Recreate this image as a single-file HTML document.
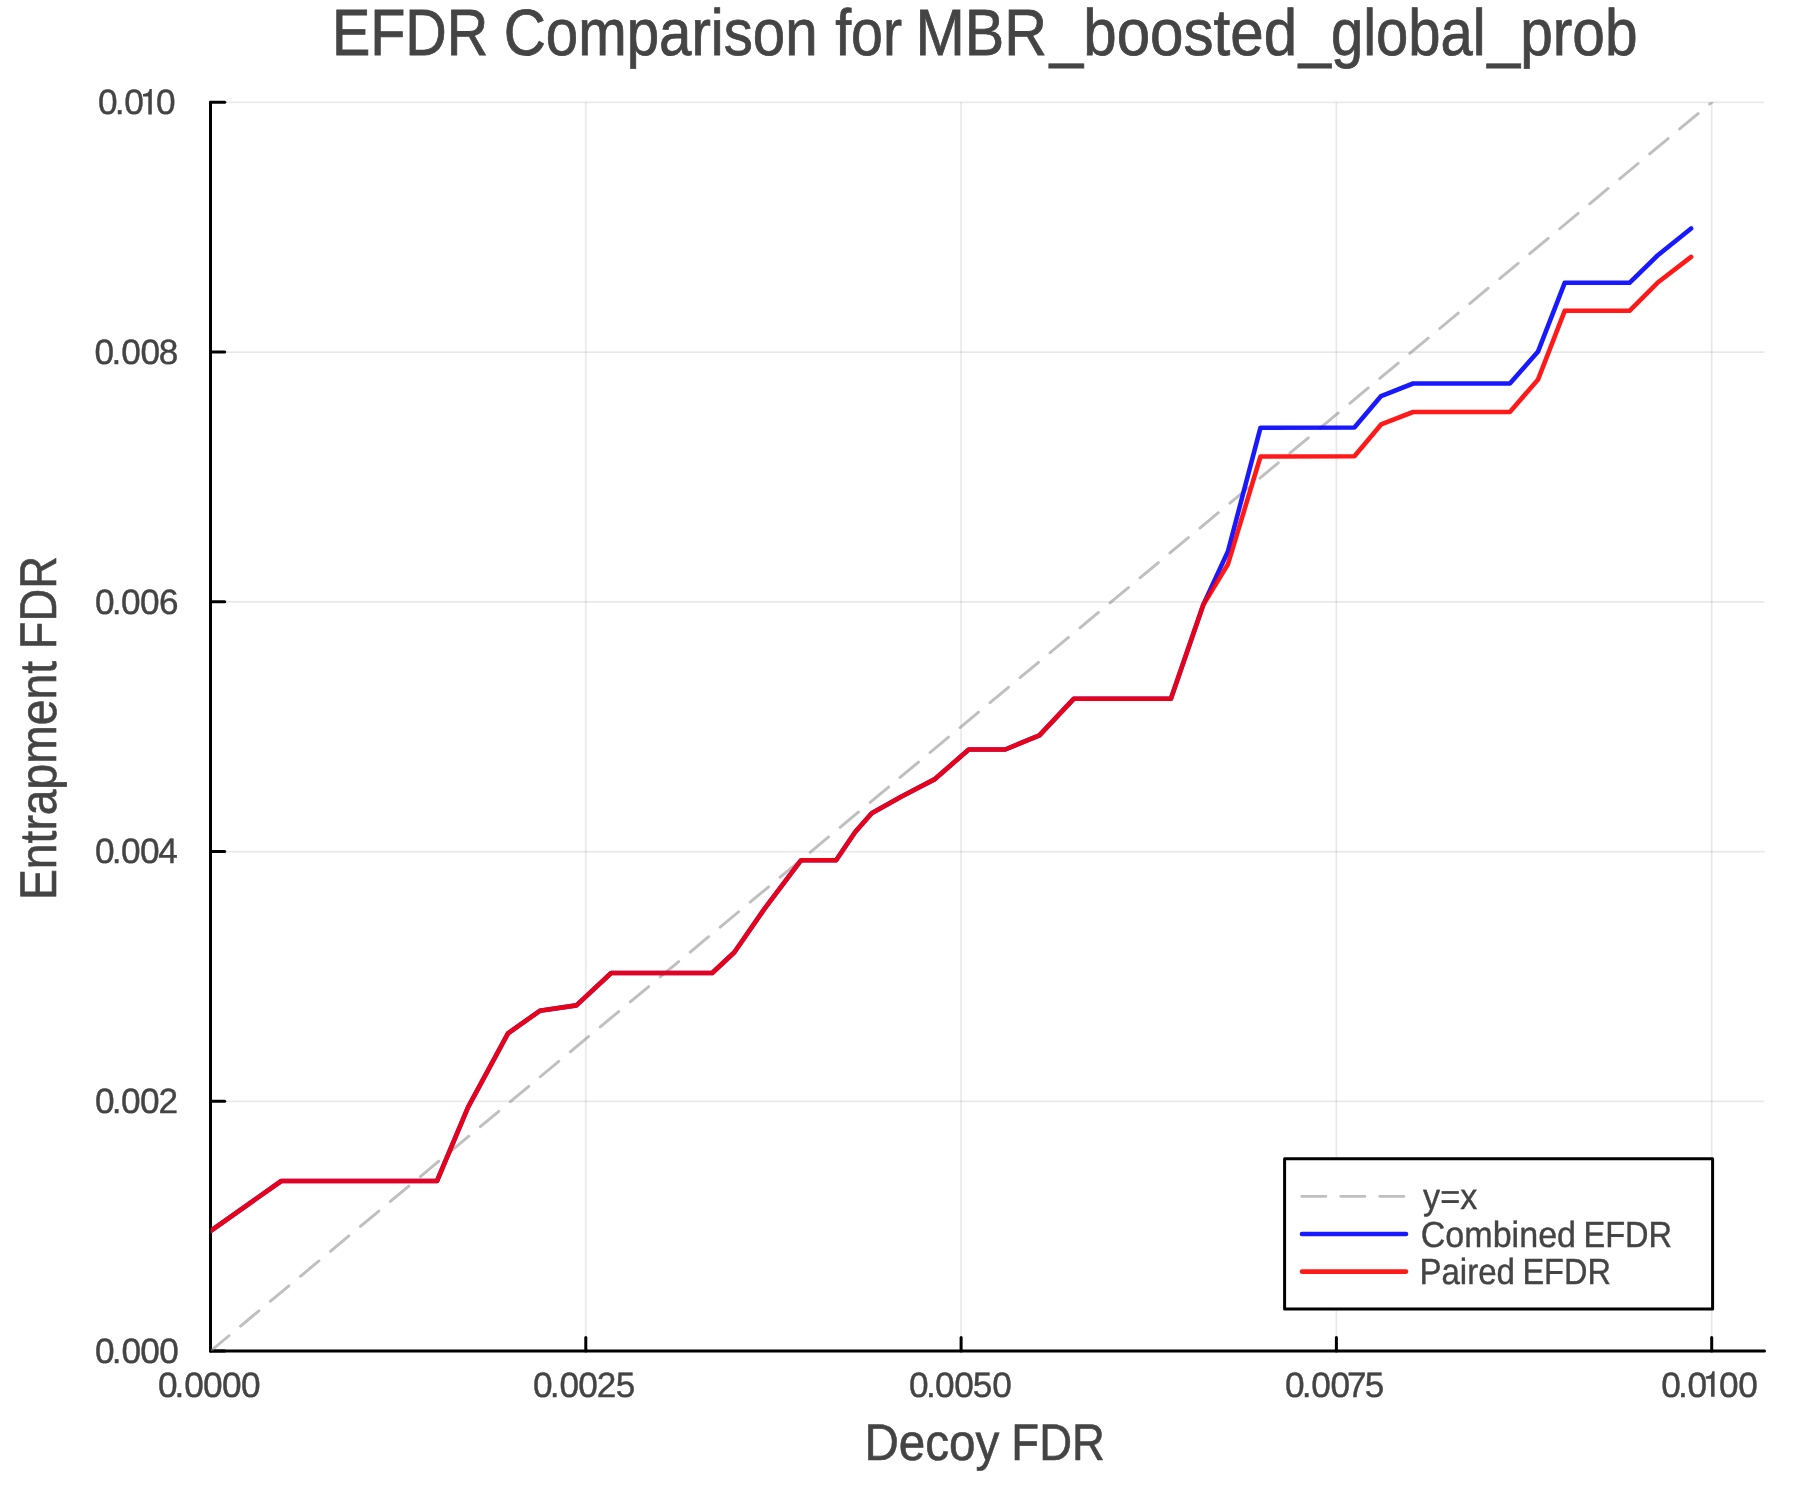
<!DOCTYPE html>
<html><head><meta charset="utf-8"><style>html,body{margin:0;padding:0;background:#fff;width:1800px;height:1500px;overflow:hidden}svg{display:block;will-change:transform;text-rendering:geometricPrecision}</style></head>
<body><svg width="1800" height="1500" viewBox="0 0 1800 1500">
<rect width="1800" height="1500" fill="#fff"/>
<line x1="585.80" y1="102.3" x2="585.80" y2="1351.1" stroke="#000" stroke-opacity="0.085" stroke-width="1.7"/>
<line x1="961.10" y1="102.3" x2="961.10" y2="1351.1" stroke="#000" stroke-opacity="0.085" stroke-width="1.7"/>
<line x1="1336.40" y1="102.3" x2="1336.40" y2="1351.1" stroke="#000" stroke-opacity="0.085" stroke-width="1.7"/>
<line x1="1711.70" y1="102.3" x2="1711.70" y2="1351.1" stroke="#000" stroke-opacity="0.085" stroke-width="1.7"/>
<line x1="210.5" y1="1101.34" x2="1764.5" y2="1101.34" stroke="#000" stroke-opacity="0.085" stroke-width="1.7"/>
<line x1="210.5" y1="851.58" x2="1764.5" y2="851.58" stroke="#000" stroke-opacity="0.085" stroke-width="1.7"/>
<line x1="210.5" y1="601.82" x2="1764.5" y2="601.82" stroke="#000" stroke-opacity="0.085" stroke-width="1.7"/>
<line x1="210.5" y1="352.06" x2="1764.5" y2="352.06" stroke="#000" stroke-opacity="0.085" stroke-width="1.7"/>
<line x1="210.5" y1="102.30" x2="1764.5" y2="102.30" stroke="#000" stroke-opacity="0.085" stroke-width="1.7"/>
<path d="M210.5 102.3 V1351.1 H1764.5" fill="none" stroke="#000" stroke-width="3" stroke-linecap="round" stroke-linejoin="round"/>
<line x1="210.5" y1="1351.1" x2="224.7" y2="1351.1" stroke="#000" stroke-width="3" stroke-linecap="round"/>
<line x1="210.5" y1="1101.3" x2="224.7" y2="1101.3" stroke="#000" stroke-width="3" stroke-linecap="round"/>
<line x1="210.5" y1="851.6" x2="224.7" y2="851.6" stroke="#000" stroke-width="3" stroke-linecap="round"/>
<line x1="210.5" y1="601.8" x2="224.7" y2="601.8" stroke="#000" stroke-width="3" stroke-linecap="round"/>
<line x1="210.5" y1="352.1" x2="224.7" y2="352.1" stroke="#000" stroke-width="3" stroke-linecap="round"/>
<line x1="210.5" y1="102.3" x2="224.7" y2="102.3" stroke="#000" stroke-width="3" stroke-linecap="round"/>
<line x1="210.5" y1="1351.1" x2="210.5" y2="1337.6" stroke="#000" stroke-width="3" stroke-linecap="round"/>
<line x1="585.8" y1="1351.1" x2="585.8" y2="1337.6" stroke="#000" stroke-width="3" stroke-linecap="round"/>
<line x1="961.1" y1="1351.1" x2="961.1" y2="1337.6" stroke="#000" stroke-width="3" stroke-linecap="round"/>
<line x1="1336.4" y1="1351.1" x2="1336.4" y2="1337.6" stroke="#000" stroke-width="3" stroke-linecap="round"/>
<line x1="1711.7" y1="1351.1" x2="1711.7" y2="1337.6" stroke="#000" stroke-width="3" stroke-linecap="round"/>
<defs><clipPath id="pa"><rect x="210.8" y="102.3" width="1553.7" height="1248.8"/></clipPath></defs><g clip-path="url(#pa)">
<line x1="210.5" y1="1351.1" x2="1734.75" y2="83.12" stroke="#808080" stroke-opacity="0.5" stroke-width="2.9" stroke-dasharray="24 15" stroke-linecap="round"/>
<polyline points="210.5,1231.0 281.3,1181.0 437.0,1181.0 468.0,1107.4 508.0,1033.4 539.8,1010.8 576.4,1005.4 611.2,973.0 712.2,973.0 734.4,952.2 764.4,908.9 801.1,860.2 836.1,860.2 855.0,832.2 871.7,813.3 901.1,796.7 934.4,779.4 968.8,749.5 1005.2,749.5 1039.4,735.3 1073.7,698.8 1170.9,698.8 1203.3,604.8 1227.9,551.5 1260.5,427.7 1354.4,427.5 1381.1,396.1 1413.1,383.5 1509.9,383.5 1538.1,351.4 1564.7,282.8 1629.5,282.8 1657.5,255.5 1691.1,228.5" fill="none" stroke="#0000ff" stroke-opacity="0.9" stroke-width="4.6" stroke-linejoin="round" stroke-linecap="round"/>
<polyline points="210.5,1231.0 281.3,1181.0 437.0,1181.0 468.0,1107.4 508.0,1033.4 539.8,1010.8 576.4,1005.4 611.2,973.0 712.2,973.0 734.4,952.2 764.4,908.9 801.1,860.2 836.1,860.2 855.0,832.2 871.7,813.3 901.1,796.7 934.4,779.4 968.8,749.5 1005.2,749.5 1039.4,735.3 1073.7,698.8 1170.9,698.8 1203.3,604.8 1227.9,564.3 1260.5,456.5 1354.4,456.3 1381.1,424.4 1413.1,412.0 1509.9,412.0 1538.1,379.4 1564.7,310.8 1629.5,310.8 1657.5,282.8 1691.1,256.9" fill="none" stroke="#ff0000" stroke-opacity="0.9" stroke-width="4.6" stroke-linejoin="round" stroke-linecap="round"/>
</g>
<text x="331.89" y="54.8" font-family="Liberation Sans, sans-serif" font-size="65.4" fill="#444444" stroke="#444444" stroke-width="0.8" textLength="156.38" lengthAdjust="spacingAndGlyphs">EFDR</text>
<text x="503.74" y="54.8" font-family="Liberation Sans, sans-serif" font-size="65.4" fill="#444444" stroke="#444444" stroke-width="0.8" textLength="313.84" lengthAdjust="spacingAndGlyphs">Comparison</text>
<text x="835.19" y="54.8" font-family="Liberation Sans, sans-serif" font-size="65.4" fill="#444444" stroke="#444444" stroke-width="0.8" textLength="66.86" lengthAdjust="spacingAndGlyphs">for</text>
<text x="915.54" y="54.8" font-family="Liberation Sans, sans-serif" font-size="65.4" fill="#444444" stroke="#444444" stroke-width="0.8" textLength="131.61" lengthAdjust="spacingAndGlyphs">MBR</text>
<text x="1049.81" y="54.8" font-family="Liberation Sans, sans-serif" font-size="65.4" fill="#444444" stroke="#444444" stroke-width="0.8" textLength="247.37" lengthAdjust="spacingAndGlyphs">_boosted</text>
<text x="1298.68" y="54.8" font-family="Liberation Sans, sans-serif" font-size="65.4" fill="#444444" stroke="#444444" stroke-width="0.8" textLength="187.00" lengthAdjust="spacingAndGlyphs">_global</text>
<text x="1487.59" y="54.8" font-family="Liberation Sans, sans-serif" font-size="65.4" fill="#444444" stroke="#444444" stroke-width="0.8" textLength="149.97" lengthAdjust="spacingAndGlyphs">_prob</text>
<text x="864.39" y="1459.9" font-family="Liberation Sans, sans-serif" font-size="51.6" fill="#444444" stroke="#444444" stroke-width="0.6" textLength="135.00" lengthAdjust="spacingAndGlyphs">Decoy</text>
<text x="1011.37" y="1459.9" font-family="Liberation Sans, sans-serif" font-size="51.6" fill="#444444" stroke="#444444" stroke-width="0.6" textLength="93.44" lengthAdjust="spacingAndGlyphs">FDR</text>
<g transform="translate(55.9 0) rotate(-90)"><text x="-899.99" y="0" font-family="Liberation Sans, sans-serif" font-size="51.6" fill="#444444" stroke="#444444" stroke-width="0.6" textLength="239.03" lengthAdjust="spacingAndGlyphs">Entrapment</text></g>
<g transform="translate(55.9 0) rotate(-90)"><text x="-649.22" y="0" font-family="Liberation Sans, sans-serif" font-size="51.6" fill="#444444" stroke="#444444" stroke-width="0.6" textLength="93.12" lengthAdjust="spacingAndGlyphs">FDR</text></g>
<rect x="1284.6" y="1158.7" width="428" height="150.2" fill="#fff" stroke="#000" stroke-width="3" stroke-linejoin="round"/>
<line x1="1301.8" y1="1196.4" x2="1406.5" y2="1196.4" stroke="#808080" stroke-opacity="0.5" stroke-width="2.9" stroke-dasharray="24 15" stroke-linecap="round"/>
<line x1="1302" y1="1234" x2="1406" y2="1234" stroke="#0000ff" stroke-opacity="0.9" stroke-width="4.6" stroke-linecap="round"/>
<line x1="1302" y1="1271.6" x2="1406" y2="1271.6" stroke="#ff0000" stroke-opacity="0.9" stroke-width="4.6" stroke-linecap="round"/>
<text x="1423.12" y="1208.9" font-family="Liberation Sans, sans-serif" font-size="36.3" fill="#444444" stroke="#444444" stroke-width="0.4" textLength="54.15" lengthAdjust="spacingAndGlyphs">y=x</text>
<text x="1420.67" y="1246.9" font-family="Liberation Sans, sans-serif" font-size="36.3" fill="#444444" stroke="#444444" stroke-width="0.4" textLength="155.43" lengthAdjust="spacingAndGlyphs">Combined</text>
<text x="1583.43" y="1246.9" font-family="Liberation Sans, sans-serif" font-size="36.3" fill="#444444" stroke="#444444" stroke-width="0.4" textLength="88.68" lengthAdjust="spacingAndGlyphs">EFDR</text>
<text x="1419.39" y="1283.9" font-family="Liberation Sans, sans-serif" font-size="36.3" fill="#444444" stroke="#444444" stroke-width="0.4" textLength="95.65" lengthAdjust="spacingAndGlyphs">Paired</text>
<text x="1522.43" y="1283.9" font-family="Liberation Sans, sans-serif" font-size="36.3" fill="#444444" stroke="#444444" stroke-width="0.4" textLength="88.47" lengthAdjust="spacingAndGlyphs">EFDR</text>
<text x="97.92 114.79 124.33 139.62 155.93" y="114.0" font-family="Liberation Sans, sans-serif" font-size="35.2" fill="#444444" stroke="#444444" stroke-width="0.4">0.0 0</text>
<text x="94.62 111.59 121.33 140.43 158.87" y="363.8" font-family="Liberation Sans, sans-serif" font-size="35.2" fill="#444444" stroke="#444444" stroke-width="0.4">0.008</text>
<text x="94.92 111.79 120.92 140.12 159.01" y="613.6" font-family="Liberation Sans, sans-serif" font-size="35.2" fill="#444444" stroke="#444444" stroke-width="0.4">0.006</text>
<text x="94.92 111.79 120.92 140.12 158.19" y="863.3" font-family="Liberation Sans, sans-serif" font-size="35.2" fill="#444444" stroke="#444444" stroke-width="0.4">0.004</text>
<text x="94.92 111.79 120.92 140.12 158.43" y="1113.1" font-family="Liberation Sans, sans-serif" font-size="35.2" fill="#444444" stroke="#444444" stroke-width="0.4">0.002</text>
<text x="95.03 111.79 121.42 140.32 159.22" y="1362.8" font-family="Liberation Sans, sans-serif" font-size="35.2" fill="#444444" stroke="#444444" stroke-width="0.4">0.000</text>
<text x="158.03 174.59 184.22 203.03 221.93 241.03" y="1396.5" font-family="Liberation Sans, sans-serif" font-size="35.2" fill="#444444" stroke="#444444" stroke-width="0.4">0.0000</text>
<text x="533.02 549.69 559.42 578.23 596.63 615.69" y="1396.5" font-family="Liberation Sans, sans-serif" font-size="35.2" fill="#444444" stroke="#444444" stroke-width="0.4">0.0025</text>
<text x="908.92 925.89 935.12 954.33 972.69 992.23" y="1396.5" font-family="Liberation Sans, sans-serif" font-size="35.2" fill="#444444" stroke="#444444" stroke-width="0.4">0.0050</text>
<text x="1285.12 1301.79 1311.22 1330.42 1346.90 1364.69" y="1396.5" font-family="Liberation Sans, sans-serif" font-size="35.2" fill="#444444" stroke="#444444" stroke-width="0.4">0.0075</text>
<text x="1661.22 1677.89 1687.62 1702.62 1719.03 1738.22" y="1396.5" font-family="Liberation Sans, sans-serif" font-size="35.2" fill="#444444" stroke="#444444" stroke-width="0.4">0.0 00</text>
<path transform="translate(1714.6 1396.8)" d="M0,0 V-25.6 H-2.2 C-2.7,-23 -4,-21.4 -6.1,-20.9 C-7.2,-20.6 -8.1,-20.5 -8.8,-20.4 V-18.1 H-3.5 V0 Z" fill="#444444"/>
<path transform="translate(151.8 114.5)" d="M0,0 V-25.6 H-2.2 C-2.7,-23 -4,-21.4 -6.1,-20.9 C-7.2,-20.6 -8.1,-20.5 -8.8,-20.4 V-18.1 H-3.5 V0 Z" fill="#444444"/>
</svg></body></html>
